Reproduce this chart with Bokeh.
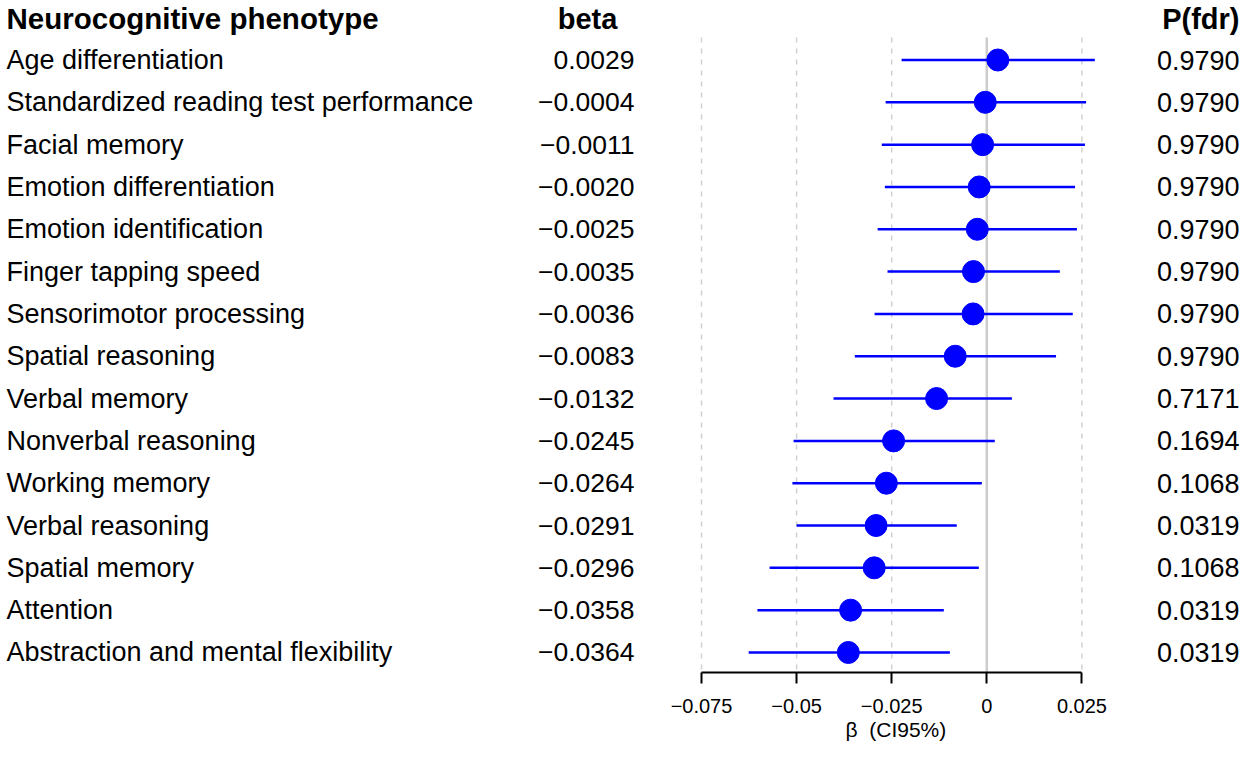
from bokeh.plotting import figure
from bokeh.models import Range1d, ColumnDataSource, FixedTicker, Title
from bokeh.core.properties import value
from bokeh.embed import file_html
from bokeh.resources import INLINE

phenotypes = [
    "Age differentiation",
    "Standardized reading test performance",
    "Facial memory",
    "Emotion differentiation",
    "Emotion identification",
    "Finger tapping speed",
    "Sensorimotor processing",
    "Spatial reasoning",
    "Verbal memory",
    "Nonverbal reasoning",
    "Working memory",
    "Verbal reasoning",
    "Spatial memory",
    "Attention",
    "Abstraction and mental flexibility",
]
beta = [0.0029, -0.0004, -0.0011, -0.0020, -0.0025, -0.0035, -0.0036, -0.0083,
        -0.0132, -0.0245, -0.0264, -0.0291, -0.0296, -0.0358, -0.0364]
ci_low = [-0.0224, -0.0266, -0.0276, -0.0268, -0.0287, -0.0261, -0.0295, -0.0347,
          -0.0403, -0.0508, -0.0511, -0.0500, -0.0571, -0.0603, -0.0626]
ci_high = [0.0284, 0.0261, 0.0258, 0.0232, 0.0237, 0.0192, 0.0226, 0.0182,
           0.0066, 0.0021, -0.0013, -0.0079, -0.0021, -0.0113, -0.0097]
p_fdr = [0.9790, 0.9790, 0.9790, 0.9790, 0.9790, 0.9790, 0.9790, 0.9790,
         0.7171, 0.1694, 0.1068, 0.0319, 0.1068, 0.0319, 0.0319]
tick_values = [-0.075, -0.05, -0.025, 0, 0.025]
tick_labels = ["\u22120.075", "\u22120.05", "\u22120.025", "0", "0.025"]
grid_values = [-0.075, -0.05, -0.025, 0.025]
x_title = "\u03b2\u00a0\u00a0(CI95%)"

FONT = "Liberation Sans"
W, H = 1244, 742
OFF = 8                      # reference-pixel offset of the canvas origin
BOTTOM = 70                  # space below the frame for axis + title

# layout: reference-pixel -> data conversion (layout only)
X0_PX, PX_PER_UNIT = 994.3, 3804.0
ROW0_PX, ROW_H = 67.5, 42.32


def xpos(px):
    return (px - X0_PX) / PX_PER_UNIT


def ypos(py):
    return (py - ROW0_PX) / ROW_H


rows = list(range(len(phenotypes)))
frame_bottom_ref = OFF + H - BOTTOM

p = figure(width=W, height=H, output_backend="svg", toolbar_location=None,
           x_range=Range1d(xpos(OFF), xpos(OFF + W)),
           y_range=Range1d(ypos(frame_bottom_ref), ypos(OFF)),
           min_border_left=0, min_border_right=0, min_border_top=0,
           min_border_bottom=BOTTOM,
           y_axis_location=None)
p.outline_line_color = None
p.xgrid.visible = False
p.ygrid.visible = False
p.background_fill_color = "white"
p.border_fill_color = "white"

# grid lines
p.segment(x0=grid_values, x1=grid_values, y0=[ypos(45)] * len(grid_values),
          y1=[ypos(frame_bottom_ref - 2)] * len(grid_values), line_color="#d0d0d0",
          line_width=1.5, line_dash="5 6")
p.segment(x0=[0], x1=[0], y0=[ypos(45)], y1=[ypos(frame_bottom_ref)],
          line_color="#cccccc", line_width=2.5)

src = ColumnDataSource(dict(
    y=rows, beta=beta, lo=ci_low, hi=ci_high, name=phenotypes,
    beta_txt=[("%.4f" % b).replace("-", "\u2212") for b in beta],
    p_txt=["%.4f" % v for v in p_fdr],
))

p.segment(x0="lo", x1="hi", y0="y", y1="y", source=src, line_color="#0000ff",
          line_width=2.5)
p.scatter(x="beta", y="y", source=src, size=22, fill_color="#0000ff",
          line_color="#0000ff")

# table columns
p.text(x=xpos(14), y="y", text="name", source=src, text_font=value(FONT),
       text_font_size="27px", text_align="left", text_baseline="middle",
       text_color="black")
p.text(x=xpos(642), y="y", text="beta_txt", source=src, text_font=value(FONT),
       text_font_size="26.5px", text_align="right", text_baseline="middle",
       text_color="black")
p.text(x=xpos(1247), y="y", text="p_txt", source=src, text_font=value(FONT),
       text_font_size="27px", text_align="right", text_baseline="middle",
       text_color="black")

# headers
hy = ypos(26)
p.text(x=[xpos(14)], y=[hy], text=["Neurocognitive phenotype"], text_font=value(FONT),
       text_font_size="29.5px", text_font_style="bold", text_align="left",
       text_baseline="middle", text_color="black")
p.text(x=[xpos(595)], y=[hy], text=["beta"], text_font=value(FONT),
       text_font_size="29px", text_font_style="bold", text_align="center",
       text_baseline="middle", text_color="black")
p.text(x=[xpos(1247)], y=[hy], text=["P(fdr)"], text_font=value(FONT),
       text_font_size="29px", text_font_style="bold", text_align="right",
       text_baseline="middle", text_color="black")

# x axis
ax = p.xaxis[0]
ax.bounds = (tick_values[0], tick_values[-1])
ax.ticker = FixedTicker(ticks=tick_values)
ax.major_label_overrides = {v: l for v, l in zip(tick_values, tick_labels)}
ax.minor_tick_line_color = None
ax.axis_line_width = 2
ax.axis_line_color = "black"
ax.major_tick_line_width = 2
ax.major_tick_line_color = "black"
ax.major_tick_out = 11
ax.major_tick_in = 0
ax.major_label_text_font = FONT
ax.major_label_text_font_size = "20px"
ax.major_label_text_color = "black"
ax.major_label_standoff = 15

# axis title centred under the bounded axis (left offset in canvas pixels)
p.add_layout(Title(text=x_title, align="left", offset=853 - OFF, standoff=0,
                   text_font=FONT, text_font_size="21px",
                   text_font_style="normal", text_color="black"), "below")

open("out.html", "w").write(file_html(p, INLINE))
